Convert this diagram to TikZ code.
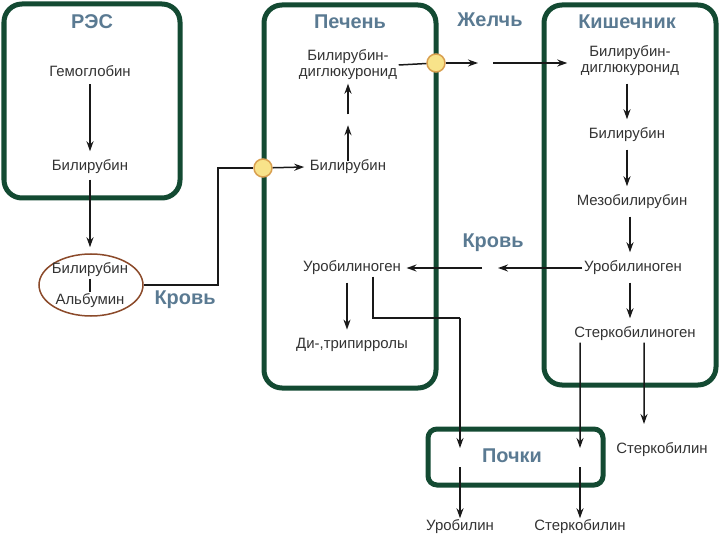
\documentclass[tikz,border=0pt]{standalone}
\usepackage{fontspec}
\setmainfont{Liberation Sans}
\usetikzlibrary{arrows.meta,calc,shapes.geometric}
\definecolor{boxgreen}{HTML}{134A32}
\definecolor{titleblue}{HTML}{5A7A92}
\definecolor{txt}{HTML}{333333}
\definecolor{dotfill}{HTML}{F8E38A}
\definecolor{dotdraw}{HTML}{D9A050}
\definecolor{ellbrown}{HTML}{8B4A2A}
\tikzset{
  x=1bp,y=-1bp,
  lbl/.style={font=\fontsize{15}{17}\selectfont, text=txt, inner sep=1.5bp},
  ttl/.style={font=\fontsize{20}{22}\selectfont\bfseries, text=titleblue, inner sep=1bp},
  organ/.style={draw=boxgreen, line width=5bp, rounded corners=18bp},
  arr/.style={draw=black!90, line width=1.5bp, -{Stealth[length=10bp,width=7bp]}},
  gapped/.style={shorten <=6bp, shorten >=7bp},
  ln/.style={draw=black!90, line width=1.5bp},
  dot/.style={circle, draw=dotdraw, fill=dotfill, line width=1.5bp, minimum size=18bp, inner sep=0pt},
}
\begin{document}
\begin{tikzpicture}
\useasboundingbox (0,0) rectangle (720,540);
% organ boxes
\draw[organ] (4,4) rectangle (180,198);
\draw[organ] (264,5) rectangle (436,388);
\draw[organ] (544,5) rectangle (716,385);
\draw[organ, rounded corners=9bp] (428,429) rectangle (603,485);

% titles
\node[ttl] (res) at (92,22) {РЭС};
\node[ttl] (pech) at (350,22) {Печень};
\node[ttl] (kish) at (627,22) {Кишечник};
\node[ttl] (zhel) at (490,20) {Желчь};
\node[ttl] (krov1) at (185,300) {Кровь};
\node[ttl] (krov2) at (493,243) {Кровь};
\node[ttl] (poch) at (512,456) {Почки};

% RES
\node[lbl] (hem) at (90,71) {Гемоглобин};
\node[lbl] (bil1) at (90,167) {Билирубин};
\node[ellipse, draw=ellbrown, line width=1.5bp, minimum width=104bp, minimum height=62bp, inner sep=0pt] (ell) at (91,285) {};
\node[lbl] (ea) at (90,270) {Билирубин};
\node[lbl] (eb) at (90,301) {Альбумин};
\draw[ln] (ea.south) -- (eb.north);

% liver
\node[lbl, align=center] (bdg1) at (348,65) {Билирубин-\\[-1bp]диглюкуронид};
\node[lbl] (bil2) at (348,167) {Билирубин};
\node[lbl] (uro1) at (352,268) {Уробилиноген};
\node[lbl] (dtp) at (352,345) {Ди-,трипирролы};

% intestine
\node[lbl, align=center] (bdg2) at (630,61) {Билирубин-\\[-1bp]диглюкуронид};
\node[lbl] (bil3) at (627,135) {Билирубин};
\node[lbl] (meso) at (632,202) {Мезобилирубин};
\node[lbl] (uro2) at (633,268) {Уробилиноген};
\node[lbl] (stg) at (635,334) {Стеркобилиноген};

% bottom
\node[lbl] (urob) at (460,527) {Уробилин};
\node[lbl] (st1) at (580,527) {Стеркобилин};
\node[lbl] (st2) at (662,450) {Стеркобилин};

% dots
\node[dot] (c1) at (263,168) {};
\node[dot] (c2) at (436,63) {};

% coordinates
\coordinate (k1) at (218,168);
\coordinate (g1) at (478,63);
\coordinate (g2) at (493,63);
\coordinate (b1) at (498,268);
\coordinate (b2) at (482,268);
\coordinate (p1) at (460,318);
\coordinate (pa1) at (460,448);
\coordinate (pa2) at (460,467);
\coordinate (pb1) at (580,448);
\coordinate (pb2) at (580,467);
\coordinate (pc1) at (644,424);

% connectors RES
\draw[arr, gapped] (hem.south) -- (bil1.north);
\draw[arr, shorten <=4bp, shorten >=6bp] (bil1.south) -- (bil1.south |- ell.north);
\draw[ln] (ell.east) -| (k1) -- (c1);
\draw[arr] (c1) -- ([xshift=-4bp]bil2.west);

% liver internal
\draw[arr] ([yshift=-3bp]bil2.north) -- ++(0,-36);
\draw[arr] ($(bil2.north)+(0,-44)$) -- ([yshift=-2bp]bdg1.south);
\draw[ln] (bdg1.east) -- (c2);
\draw[arr] (c2) -- (g1);
\draw[arr] (g2) -- ([xshift=-12bp]bdg2.west |- g2);

% intestine internal
\draw[arr, gapped] ([xshift=-3bp]bdg2.south) -- ([xshift=-3bp]bdg2.south |- bil3.north);
\draw[arr, gapped] (bil3.south) -- (bil3.south |- meso.north);
\draw[arr, gapped] ([xshift=-2bp]meso.south) -- ([xshift=-2bp]meso.south |- uro2.north);
\draw[arr, gapped] ([xshift=-3bp]uro2.south) -- ([xshift=-3bp]uro2.south |- stg.north);

% blood back to liver
\draw[arr] (uro2.west) -- (b1);
\draw[arr] (b2) -- ([xshift=4bp]uro1.east);
\draw[arr, gapped] ([xshift=-5bp]uro1.south) -- ([xshift=-5bp]dtp.north);

% to kidneys
\draw[ln] ([xshift=21bp]uro1.south) |- (p1);
\draw[arr] (p1) -- (pa1);
\draw[arr] (pa2) -- (urob.north);
\draw[arr] ([xshift=-55bp]stg.south) -- (pb1);
\draw[arr] (pb2) -- (st1.north);
\draw[arr] ([xshift=9bp]stg.south) -- (pc1);
\end{tikzpicture}
\end{document}
